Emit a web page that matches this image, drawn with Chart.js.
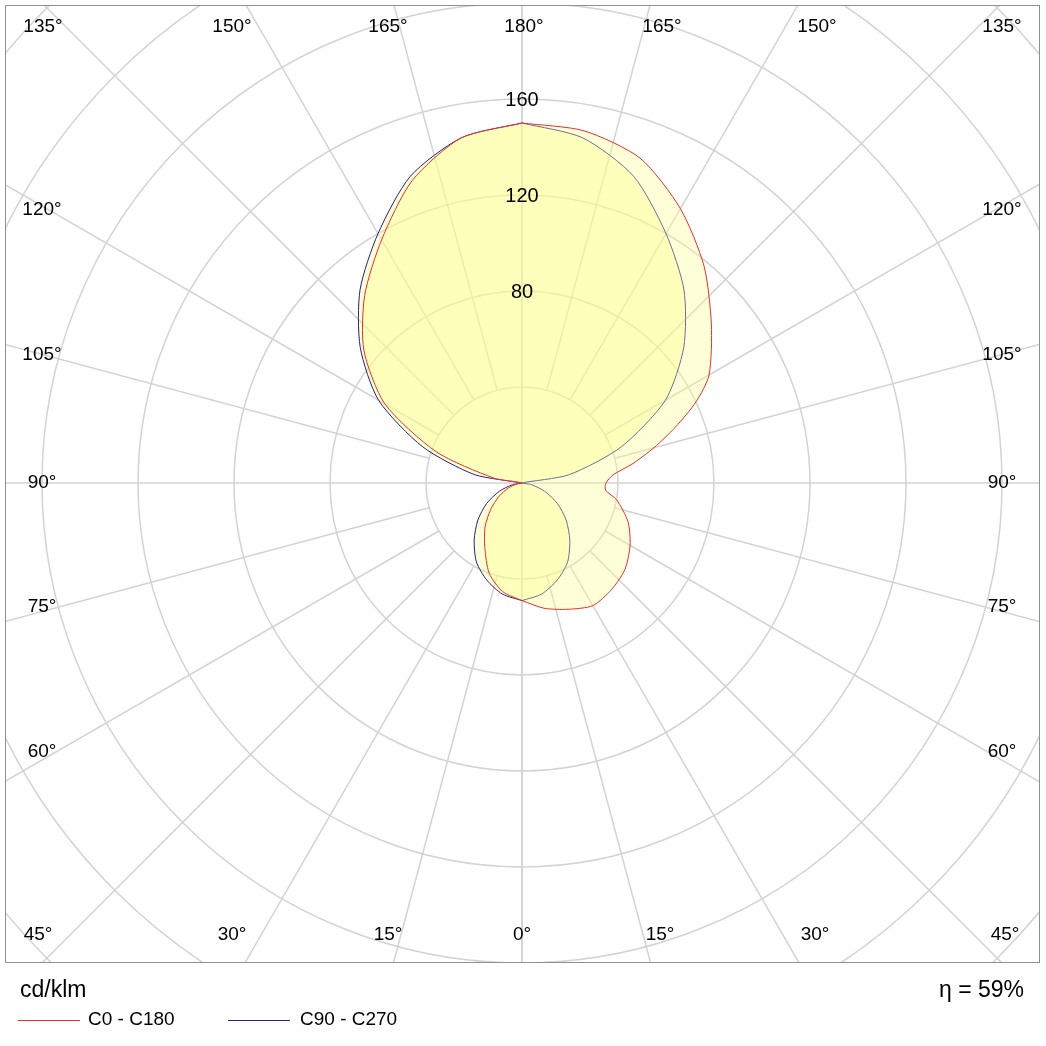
<!DOCTYPE html>
<html><head><meta charset="utf-8">
<script src="https://cdn.jsdelivr.net/npm/chart.js@4/dist/chart.umd.min.js"></script>
<style>html,body{margin:0;padding:0;background:#fff}</style>
</head><body>
<canvas id="c" width="1046" height="1046"></canvas>
<script>
// gamma angles (0 = down, 180 = up)
const gammaRedRight = [0,10,20,30,40,50,60,70,80,85,90,95,100,105,110,115,120,130,140,150,160,170,180];
const valRedRight   = [49,53,56,59,58,56,52,47,40,35,35,38,47,57,68,80,90,103,118,132,144,149,150];
const gammaRedLeft  = [0,10,20,30,40,50,60,70,80,90,100,110,120,130,140,150,160,170,180];
const valRedLeft    = [49,46,40,31,24,17,11,6,2,0,12,38,66,86,102,117,134,146,150];
const gammaBlue     = [0,10,20,30,40,50,60,70,80,90,100,110,120,130,140,150,160,170,180];
const valBlue       = [49,47,43,38,31,24,17,10,4,0,20,44,69,88,105,120,136,146,150];
const ringValues = [40,80,120,160,200,240,280];
const ringLabels = ['80','120','160'];
const spokeAngles = [0,15,30,45,60,75,90,105,120,135,150,165,180];

function toXY(g, r, side){ const a=g*Math.PI/180; return {x: side*r*Math.sin(a), y: -r*Math.cos(a)}; }
function loop(gR, vR, gL, vL){
  const pts=[];
  for(let i=0;i<gR.length;i++) pts.push(toXY(gR[i],vR[i],1));
  for(let i=gL.length-1;i>=0;i--) pts.push(toXY(gL[i],vL[i],-1));
  return pts;
}
const S=2.4, CX=522, CY=483;
const gridPlugin={
  id:'grid',
  beforeDatasetsDraw(ch){
    const c=ch.ctx, xs=ch.scales.x, ys=ch.scales.y;
    const cx=xs.getPixelForValue(0), cy=ys.getPixelForValue(0);
    const ppu=xs.getPixelForValue(1)-cx;
    c.save();
    c.beginPath(); c.rect(5,5,1035,957); c.clip();
    c.strokeStyle='#d3d3d3'; c.lineWidth=1.5;
    ringValues.forEach(v=>{c.beginPath();c.arc(cx,cy,v*ppu,0,Math.PI*2);c.stroke();});
    spokeAngles.forEach(g=>{
      [1,-1].forEach(s=>{
        const a=g*Math.PI/180, r0=(g%90===0)?0:40*ppu, r1=1000;
        c.beginPath();
        c.moveTo(cx+s*r0*Math.sin(a), cy+r0*Math.cos(a));
        c.lineTo(cx+s*r1*Math.sin(a), cy+r1*Math.cos(a));
        c.stroke();
      });
    });
    c.restore();
    c.save(); c.strokeStyle='#909090'; c.lineWidth=1; c.strokeRect(5.5,5.5,1034,957); c.restore();
  },
  afterDraw(ch){
    const c=ch.ctx, ys=ch.scales.y, xs=ch.scales.x;
    const cx=xs.getPixelForValue(0);
    c.save(); c.fillStyle='#000'; c.textAlign='center'; c.textBaseline='middle';
    c.font='20px "Liberation Sans", Arial';
    [80,120,160].forEach((v,i)=>{c.fillText(ringLabels[i], cx, ys.getPixelForValue(v)+1);});
    c.font='19px "Liberation Sans", Arial';
    const top=[['135°',43],['150°',232],['165°',388],['180°',524],['165°',662],['150°',817],['135°',1002]];
    top.forEach(t=>c.fillText(t[0],t[1],27));
    const bot=[['45°',38],['30°',232],['15°',388],['0°',522],['15°',660],['30°',815],['45°',1005]];
    bot.forEach(t=>c.fillText(t[0],t[1],935));
    const side=[['120°',210],['105°',355],['90°',483],['75°',607],['60°',752]];
    side.forEach(t=>{c.fillText(t[0],42,t[1]);c.fillText(t[0],1002,t[1]);});
    c.font='23px "Liberation Sans", Arial'; c.textAlign='left';
    c.fillText('cd/klm',20,991);
    c.textAlign='right'; c.fillText('η = 59%',1024,991);
    c.font='19px "Liberation Sans", Arial'; c.textAlign='left';
    c.strokeStyle='#e03030'; c.lineWidth=1; c.beginPath(); c.moveTo(18,1020.5); c.lineTo(80,1020.5); c.stroke();
    c.fillText('C0 - C180',88,1020);
    c.strokeStyle='#202090'; c.beginPath(); c.moveTo(228,1020.5); c.lineTo(290,1020.5); c.stroke();
    c.fillText('C90 - C270',300,1020);
    c.restore();
  }
};
new Chart(document.getElementById('c'),{
  type:'scatter',
  data:{datasets:[
    {label:'C0 - C180', data:loop(gammaRedRight,valRedRight,gammaRedLeft,valRedLeft), showLine:true, borderColor:'#e03030', borderWidth:1, backgroundColor:'rgba(255,255,140,0.35)', fill:'shape', pointRadius:0, tension:0.25},
    {label:'C90 - C270', data:loop(gammaBlue,valBlue,gammaBlue,valBlue), showLine:true, borderColor:'#202090', borderWidth:1, backgroundColor:'rgba(255,255,140,0.35)', fill:'shape', pointRadius:0, tension:0.25}
  ]},
  options:{responsive:false, animation:false, devicePixelRatio:1,
    layout:{padding:0},
    plugins:{legend:{display:false}, tooltip:{enabled:false}},
    scales:{
      x:{display:false, min:-CX/S, max:(1046-CX)/S},
      y:{display:false, min:-(1046-CY)/S, max:CY/S}
    }},
  plugins:[gridPlugin]
});
</script>
</body></html>
